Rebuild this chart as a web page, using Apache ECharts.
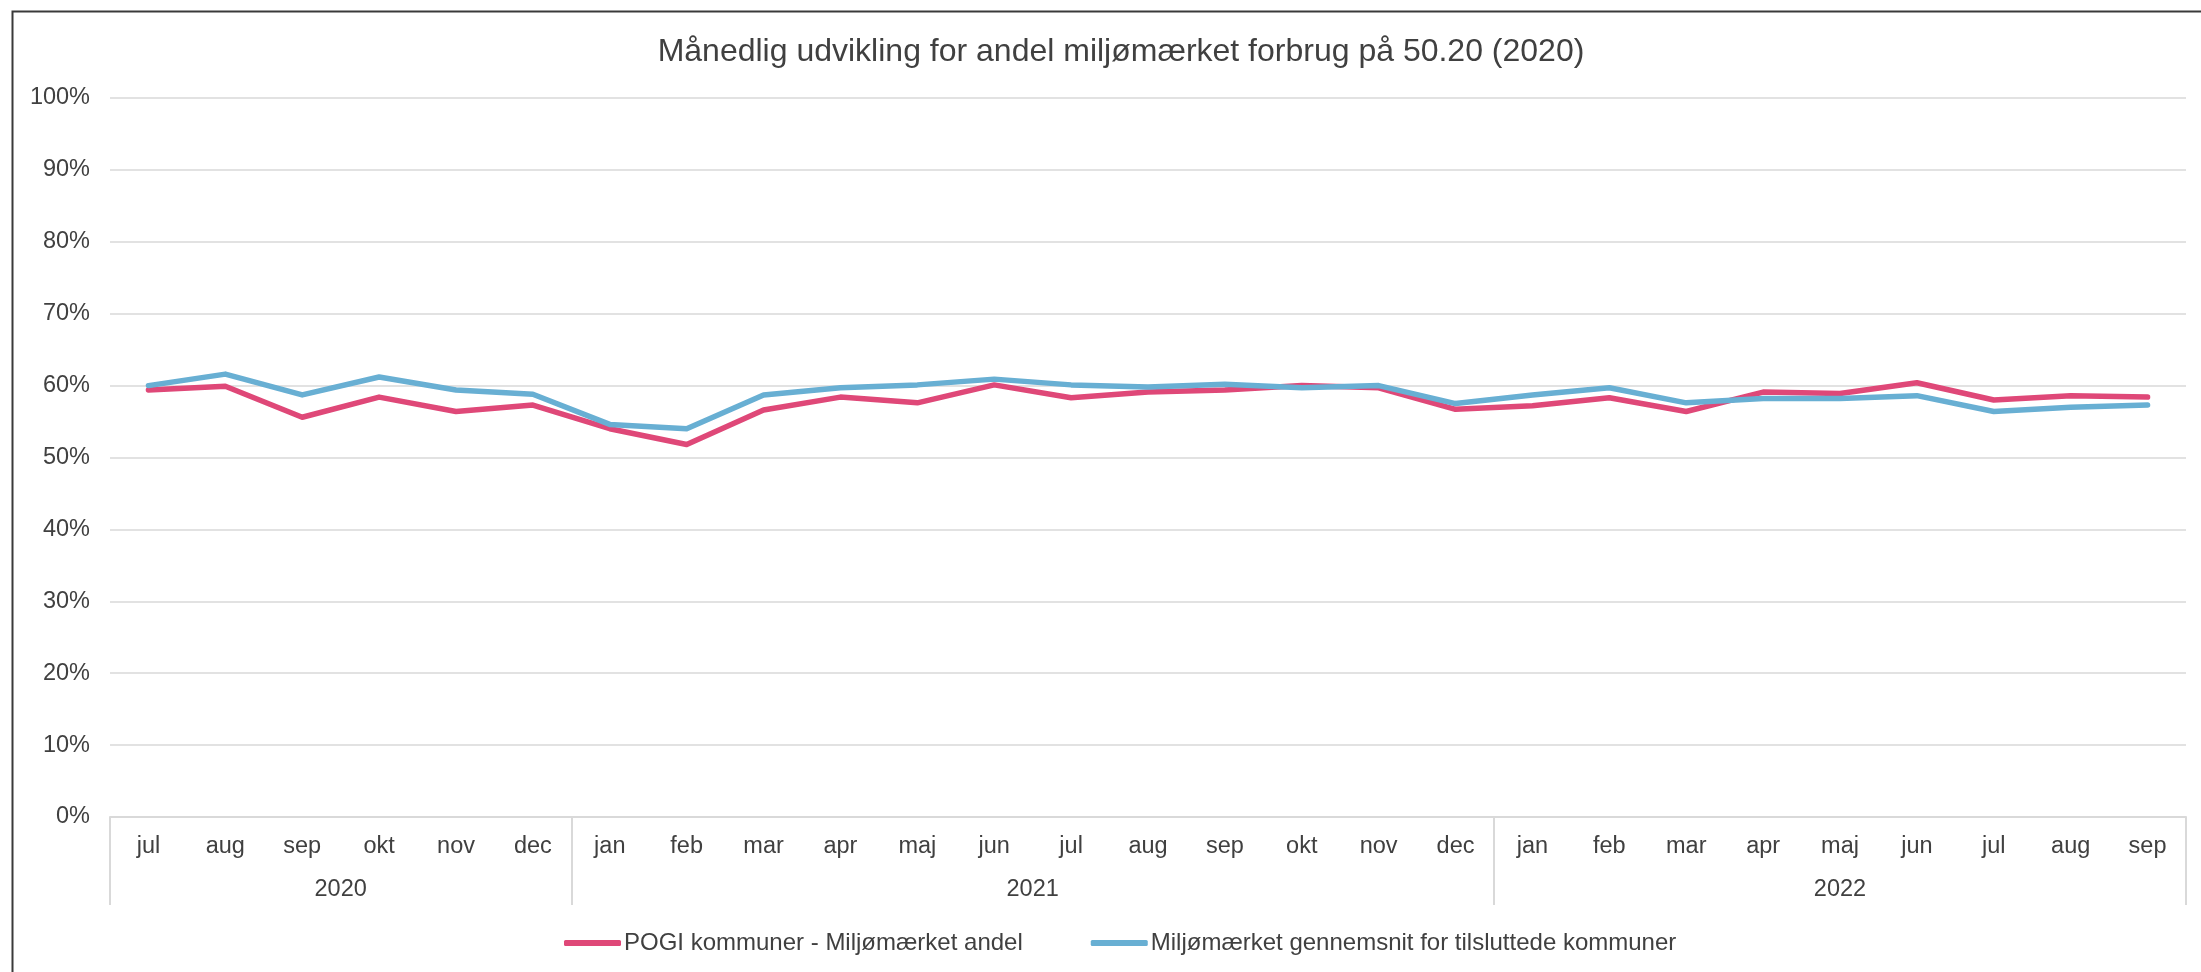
<!DOCTYPE html>
<html>
<head>
<meta charset="utf-8">
<script src="https://cdn.jsdelivr.net/npm/echarts@6/dist/echarts.min.js"></script>
<style>
    html, body { margin: 0; padding: 0; background: #fff; }
    #chart { width: 2201px; height: 972px; }
</style>
</head>
<body>
<div id="chart"></div>
<script>
    const months = ["jul", "aug", "sep", "okt", "nov", "dec",
        "jan", "feb", "mar", "apr", "maj", "jun", "jul", "aug", "sep", "okt", "nov", "dec",
        "jan", "feb", "mar", "apr", "maj", "jun", "jul", "aug", "sep"];
    const years = ["2020", "2021", "2022"];
    const yearMonthCounts = [6, 12, 9];

    const pogi = [59.4, 59.9, 55.6, 58.4, 56.4, 57.3,
        54.0, 51.8, 56.6, 58.4, 57.6, 60.1, 58.3, 59.1, 59.4, 60.0, 59.7, 56.7,
        57.2, 58.3, 56.4, 59.1, 58.9, 60.4, 58.0, 58.6, 58.4];
    const avg = [60.0, 61.6, 58.7, 61.2, 59.4, 58.8,
        54.6, 54.0, 58.7, 59.7, 60.1, 60.9, 60.1, 59.8, 60.2, 59.7, 60.0, 57.5,
        58.7, 59.7, 57.6, 58.2, 58.2, 58.6, 56.4, 57.0, 57.3];

    const seriesNames = ["POGI kommuner - Miljømærket andel", "Miljømærket gennemsnit for tilsluttede kommuner"];

    // year group boundaries and centres on a 0..N scale
    const yearBounds = [0];
    const yearCenters = [];
    yearMonthCounts.forEach(n => {
        const start = yearBounds[yearBounds.length - 1];
        yearCenters.push(start + n / 2);
        yearBounds.push(start + n);
    });

    const font = "'Liberation Sans', Arial, sans-serif";
    const textColor = "#404040";
    const gridColor = "#d9d9d9";
    const labelSize = 23.5;

    const chart = echarts.init(document.getElementById("chart"));
    const option = {
        color: ["#df4878", "#68afd3"],
        textStyle: { fontFamily: font },
        title: {
            text: "Månedlig udvikling for andel miljømærket forbrug på 50.20 (2020)",
            left: 1116,
            textAlign: "center",
            top: 31,
            textStyle: { fontFamily: font, fontSize: 32, fontWeight: "normal", color: textColor }
        },
        graphic: [{
            type: "rect",
            left: 10,
            top: 9,
            shape: { width: 2220, height: 1000 },
            style: { fill: "none", stroke: "#3a3a3a", lineWidth: 2 },
            silent: true
        }],
        legend: {
            top: 926,
            left: 559,
            itemWidth: 57,
            itemHeight: 6,
            itemGap: 68,
            icon: "roundRect",
            textStyle: { fontFamily: font, fontSize: 24, color: textColor, padding: [0, 0, 0, -2] },
            data: seriesNames
        },
        grid: { left: 110, right: 15, top: 98, bottom: 155 },
        xAxis: [
            {
                type: "category",
                data: months,
                boundaryGap: true,
                axisLine: { lineStyle: { color: gridColor, width: 2 } },
                axisTick: { show: false },
                axisLabel: { color: textColor, fontSize: labelSize, fontFamily: font, margin: 18, interval: 0 }
            },
            {
                type: "value",
                position: "bottom",
                min: 0,
                max: yearBounds[yearBounds.length - 1],
                axisLine: { show: false },
                splitLine: { show: false },
                axisTick: {
                    show: true,
                    inside: false,
                    length: 88,
                    customValues: yearBounds,
                    lineStyle: { color: gridColor, width: 2 }
                },
                axisLabel: {
                    customValues: yearCenters,
                    color: textColor,
                    fontSize: labelSize,
                    fontFamily: font,
                    margin: 61,
                    formatter: v => years[yearCenters.indexOf(v)]
                }
            }
        ],
        yAxis: {
            type: "value",
            min: 0,
            max: 100,
            interval: 10,
            axisLine: { show: false },
            axisTick: { show: false },
            splitLine: { lineStyle: { color: gridColor, width: 1.5 } },
            axisLabel: { formatter: "{value}%", color: textColor, fontSize: labelSize, fontFamily: font, margin: 20 }
        },
        series: [
            {
                name: seriesNames[0],
                type: "line",
                data: pogi,
                symbol: "none",
                lineStyle: { width: 5.5, cap: "round", join: "round" }
            },
            {
                name: seriesNames[1],
                type: "line",
                data: avg,
                symbol: "none",
                lineStyle: { width: 5.5, cap: "round", join: "round" }
            }
        ]
    };
    chart.setOption(option);
</script>
</body>
</html>
